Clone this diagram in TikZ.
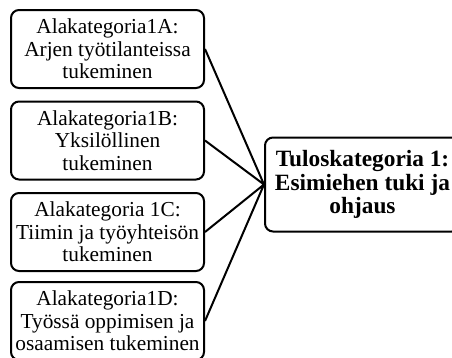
\documentclass[tikz,border=0pt]{standalone}
\usepackage{fontspec}
\setmainfont{Liberation Serif}
\usepackage{tikz}
\tikzstyle{subbox}=[draw=black,line width=1.5pt,rounded corners=6pt,
                    align=center,inner sep=2pt,
                    minimum width=144.75pt,minimum height=58.5pt,
                    font=\fontsize{16}{16.8}\selectfont]
\tikzstyle{mainbox}=[draw=black,line width=1.5pt,rounded corners=6pt,
                     align=center,inner sep=2pt,
                     minimum width=146.25pt,minimum height=70.5pt,
                     font=\fontsize{17.5}{17.5}\selectfont\bfseries]
\tikzstyle{link}=[draw=black,line width=1.5pt]

\begin{document}
\begin{tikzpicture}[x=0.75pt,y=-0.75pt]
    \newcommand{\lx}{107.5}
    \clip (0,0) rectangle (452,357);
    \node (a) at (\lx,  49.0) [subbox]{Alakategoria1A:\\Arjen työtilanteissa\\tukeminen};
    \node (b) at (\lx, 140.5) [subbox]{Alakategoria1B:\\Yksilöllinen\\tukeminen};
    \node (c) at (\lx, 232.0) [subbox]{Alakategoria 1C:\\Tiimin ja työyhteisön\\tukeminen};
    \node (d) at (\lx, 321.0) [subbox]{Alakategoria1D:\\Työssä oppimisen ja\\osaamisen tukeminen};
    \node (t) at (362.5, 184.5) [mainbox]{Tuloskategoria 1:\\Esimiehen tuki ja\\ohjaus};
    \draw[link] (a.east) -- (t.west) (b.east) -- (t.west)
                (c.east) -- (t.west) (d.east) -- (t.west);
  \end{tikzpicture}
\end{document}
